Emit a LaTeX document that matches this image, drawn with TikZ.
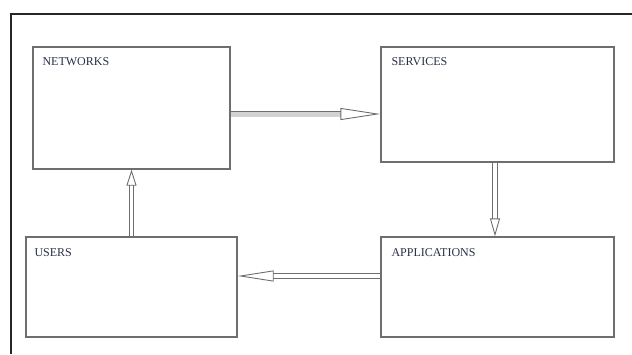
\documentclass[tikz,border=0pt]{standalone}
\usepackage{fontspec}
\setmainfont{Liberation Serif}
\usetikzlibrary{arrows.meta, positioning}
\definecolor{boxgray}{RGB}{110, 110, 110}
\definecolor{inkblue}{RGB}{40, 48, 70}

\begin{document}
\begin{tikzpicture}[
  x=1pt, y=-1pt,
  every node/.style={font=\fontsize{12}{14}\selectfont},
  block/.style={draw=boxgray, line width=1.3pt, inner sep=0pt},
  tag/.style={text=inkblue, inner sep=0pt},
  flow/.style={draw=boxgray, line width=0.9pt, double=white, double distance=3.6pt},
  flowhead/.style 2 args={-{Triangle[open, length=#1, width=#2, line width=0.9pt]}},
]
  \useasboundingbox (0,0) rectangle (632,354);

  % frame
  \draw[line width=1.6pt, black!85] (11,354) |- (632,14);

  % the four blocks
  \node[block, minimum width=197pt, minimum height=122pt] (net) at (131.5,108) {};
  \node[block, minimum width=233pt, minimum height=115pt] (srv) at (497.5,104.5) {};
  \node[block, minimum width=211pt, minimum height=100pt] (usr) at (131.5,287) {};
  \node[block, minimum width=233pt, minimum height=100pt] (app) at (497.5,287) {};

  % titles
  \node[tag, below right=11pt and 10pt of net.north west] (netlbl) {NETWORKS};
  \node[tag, below right=11pt and 11pt of srv.north west] (srvlbl) {SERVICES};
  \node[tag, below right=12pt and 9pt of usr.north west] (usrlbl) {USERS};
  \node[tag, below right=12pt and 11pt of app.north west] (applbl) {APPLICATIONS};

  % arrows
  \draw[flow, double=gray!35, double distance=5pt, flowhead={40pt}{12pt}]
    ([yshift=-6pt]net.east) -- ([yshift=-6pt]net.east -| srv.west);
  \draw[flow, flowhead={18pt}{10pt}]
    ([xshift=-2.5pt]srv.south) -- ([xshift=-2.5pt]srv.south |- app.north);
  \draw[flow, flowhead={36pt}{11pt}]
    ([yshift=11pt]app.west) -- ([yshift=11pt]app.west -| usr.east);
  \draw[flow, flowhead={16pt}{10pt}] (usr.north) -- (net.south);
\end{tikzpicture}
\end{document}
